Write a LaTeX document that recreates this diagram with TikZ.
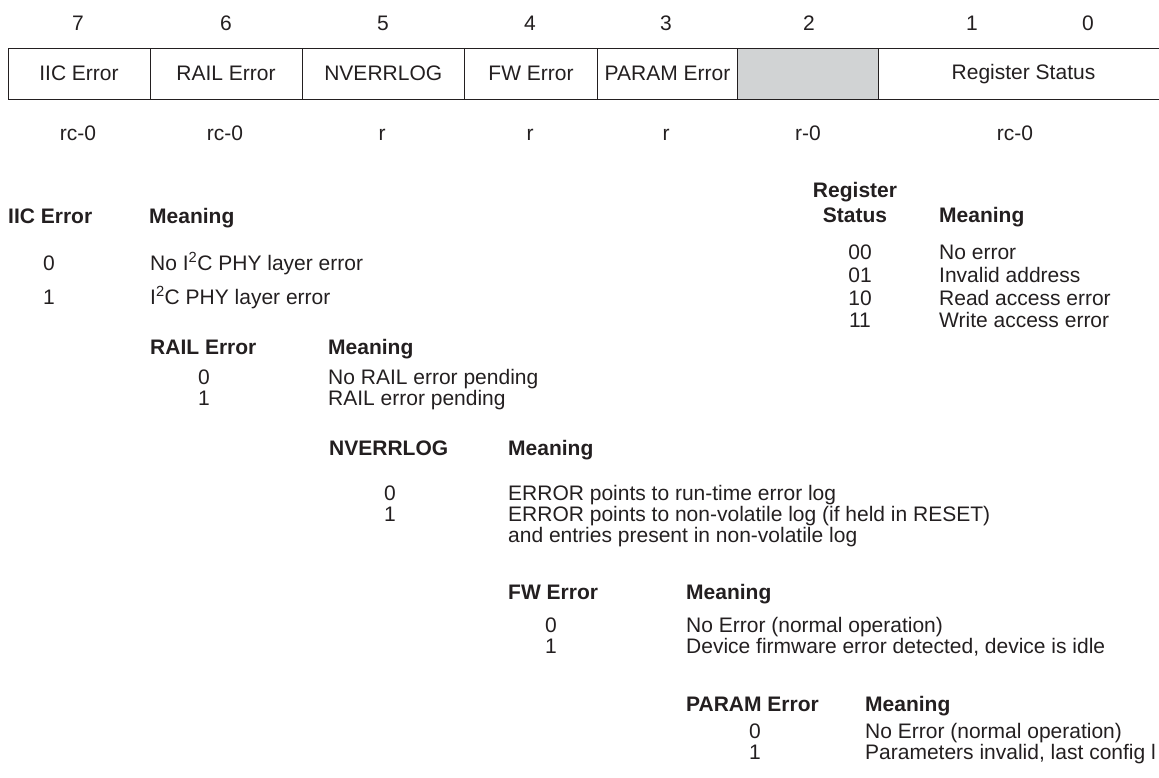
\documentclass[tikz,border=0pt]{standalone}
\usepackage{fontspec}
\setmainfont{Liberation Sans}
\usetikzlibrary{positioning}
\definecolor{inkgray}{HTML}{231F20}
\definecolor{cellgray}{HTML}{D1D3D4}
\tikzset{
    txt/.style = {inner sep=0pt, text=inkgray},
    bitnum/.style = {txt, anchor=base},
    cell/.style = {txt, draw=inkgray, line width=1pt, anchor=north west, minimum height=51.5pt, inner sep=0pt},
    head/.style = {txt, anchor=base west, font=\fontsize{21}{23}\selectfont\bfseries},
    val/.style = {txt, anchor=base},
    mean/.style = {txt, anchor=base west}
}
\begin{document}
\begin{tikzpicture}[x=1pt, y=-1pt, font=\fontsize{21}{23}\selectfont]
\useasboundingbox (0,0) rectangle (1159,777);
% bit numbers
\foreach \b/\x in {7/78, 6/226, 5/383, 4/530, 3/666, 2/809, 1/972, 0/1088}
    \node [bitnum] (bit\b) at (\x,30.5) {\b};
% register fields
\node [cell, minimum width=142pt] (iic) at (7.5,47.5) {IIC Error};
\node [cell, minimum width=152pt] (rail) at (149.5,47.5) {RAIL Error};
\node [cell, minimum width=162.5pt] (nverr) at (301.5,47.5) {NVERRLOG};
\node [cell, minimum width=133pt] (fw) at (464,47.5) {FW Error};
\node [cell, minimum width=140pt] (param) at (597,47.5) {PARAM Error};
\node [cell, minimum width=141pt, fill=cellgray] (resv) at (737,47.5) {};
\node [cell, minimum width=290pt] (regstat) at (878,47.5) {Register Status};
% access types
\foreach \n/\x/\t in {acc7/78/rc-0, acc6/225/rc-0, acc5/382/r, acc4/530/r, acc3/666/r, acc2/808/r-0, acc10/1015/rc-0}
    \node [val] (\n) at (\x,140.5) {\t};

% IIC Error
\node [head] (iichead) at (8,223.5) {IIC Error};
\node [head] (iicmean) at (149,223.5) {Meaning};
\node [val] (iiczero) at (49,270.5) {0};
\node [mean] (iiczerotxt) at (150,270.5) {No I\textsuperscript{2}C PHY layer error};
\node [val] (iicone) at (49,304.5) {1};
\node [mean] (iiconetxt) at (150,304.5) {I\textsuperscript{2}C PHY layer error};

% Register Status
\node [txt, font=\fontsize{21}{25}\selectfont\bfseries, align=center] (rshead) at (855,202.5) {Register\\Status};
\node [head] (rsmean) at (939,222.5) {Meaning};
\foreach \n/\y/\v/\t in {rsa/259.5/00/No error, rsb/282.5/01/Invalid address, rsc/305.5/10/Read access error, rsd/327.5/11/Write access error} {
    \node [val] (\n) at (860,\y) {\v};
    \node [mean] (\n txt) at (939,\y) {\t};
}

% RAIL Error
\node [head] (railhead) at (150,354.5) {RAIL Error};
\node [head] (railmean) at (328,354.5) {Meaning};
\node [val] (railzero) at (204,384.5) {0};
\node [mean] (railzerotxt) at (328,384.5) {No RAIL error pending};
\node [val] (railone) at (204,405.5) {1};
\node [mean] (railonetxt) at (328,405.5) {RAIL error pending};

% NVERRLOG
\node [head] (nvhead) at (329,455) {NVERRLOG};
\node [head] (nvmean) at (508,455) {Meaning};
\node [val] (nvzero) at (390,500.5) {0};
\node [mean] (nvzerotxt) at (508,500.5) {ERROR points to run-time error log};
\node [val] (nvone) at (390,521.5) {1};
\node [mean] (nvonetxt) at (508,521.5) {ERROR points to non-volatile log (if held in RESET)};
\node [mean] (nvonemore) at (508,542.5) {and entries present in non-volatile log};

% FW Error
\node [head] (fwhead) at (508,599.5) {FW Error};
\node [head] (fwmean) at (686,599.5) {Meaning};
\node [val] (fwzero) at (551,632.5) {0};
\node [mean] (fwzerotxt) at (686,632.5) {No Error (normal operation)};
\node [val] (fwone) at (551,653.5) {1};
\node [mean] (fwonetxt) at (686,653.5) {Device firmware error detected, device is idle};

% PARAM Error
\node [head] (pahead) at (686,711.5) {PARAM Error};
\node [head] (pamean) at (865,711.5) {Meaning};
\node [val] (pazero) at (755,738.5) {0};
\node [mean] (pazerotxt) at (865,738.5) {No Error (normal operation)};
\node [val] (paone) at (755,759.5) {1};
\node [mean] (paonetxt) at (865,759.5) {Parameters invalid, last config l};
\end{tikzpicture}
\end{document}
